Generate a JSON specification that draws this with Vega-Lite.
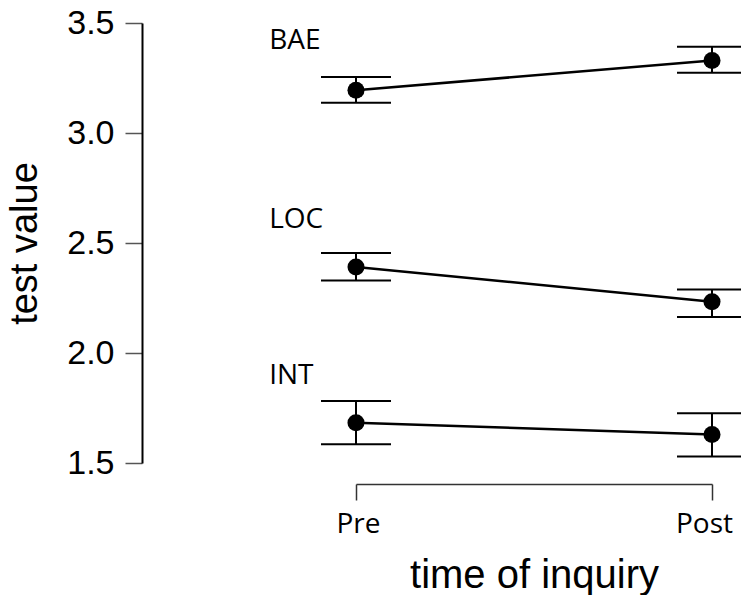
{
  "$schema": "https://vega.github.io/schema/vega-lite/v6.json",
  "width": 356,
  "height": 440,
  "padding": {"top": 6, "left": 6, "right": 0, "bottom": 0},
  "autosize": {"type": "pad"},
  "config": {"view": {"stroke": null}, "font": "Liberation Sans"},
  "datasets": {
    "stats": [
      {"measure": "BAE", "time": "Pre", "t": 1, "mean": 3.194, "lo": 3.137, "hi": 3.255},
      {"measure": "BAE", "time": "Post", "t": 2, "mean": 3.330, "lo": 3.274, "hi": 3.392},
      {"measure": "LOC", "time": "Pre", "t": 1, "mean": 2.391, "lo": 2.329, "hi": 2.455},
      {"measure": "LOC", "time": "Post", "t": 2, "mean": 2.233, "lo": 2.164, "hi": 2.289},
      {"measure": "INT", "time": "Pre", "t": 1, "mean": 1.683, "lo": 1.585, "hi": 1.782},
      {"measure": "INT", "time": "Post", "t": 2, "mean": 1.630, "lo": 1.529, "hi": 1.726}
    ],
    "labels": [
      {"measure": "BAE", "t": 0.756, "pos": 3.42},
      {"measure": "LOC", "t": 0.756, "pos": 2.605},
      {"measure": "INT", "t": 0.756, "pos": 1.895}
    ]
  },
  "layer": [
    {
      "data": {"name": "stats"},
      "mark": {"type": "rule", "strokeWidth": 2, "color": "black"},
      "encoding": {
        "x": {
          "field": "t", "type": "quantitative",
          "scale": {"domain": [1, 2], "nice": false, "zero": false},
          "axis": {
            "title": "time of inquiry", "values": [1, 2],
            "labelExpr": "datum.value == 1 ? 'Pre' : 'Post'",
            "offset": 21, "grid": false, "tickSize": 16, "tickWidth": 1.5,
            "tickColor": "#333", "domainColor": "#333", "domainWidth": 1.5,
            "labelFont": "Open Sans", "labelFontSize": 28, "labelColor": "black",
            "labelPadding": 10, "labelFlush": false,
            "labelOffset": {"condition": {"test": "datum.value == 2", "value": -8}, "value": 2},
            "titleFont": "Liberation Sans", "titleFontSize": 40, "titleFontWeight": "normal",
            "titleColor": "black", "titlePadding": 17
          }
        },
        "y": {
          "field": "lo", "type": "quantitative",
          "scale": {"domain": [1.5, 3.5], "nice": false, "zero": false},
          "axis": {
            "title": "test value", "values": [1.5, 2, 2.5, 3, 3.5], "format": ".1f",
            "offset": 214, "grid": false, "tickSize": 17, "tickWidth": 1.5,
            "tickColor": "#555", "domainColor": "black", "domainWidth": 2,
            "labelFont": "Liberation Sans", "labelFontSize": 34, "labelColor": "black",
            "labelPadding": 11,
            "titleFont": "Liberation Sans", "titleFontSize": 38, "titleFontWeight": "normal",
            "titleColor": "black", "titlePadding": 22
          }
        },
        "y2": {"field": "hi"}
      }
    },
    {
      "data": {"name": "stats"},
      "mark": {"type": "tick", "orient": "horizontal", "size": 70, "thickness": 2, "color": "black", "opacity": 1},
      "encoding": {
        "x": {"field": "t", "type": "quantitative"},
        "y": {"field": "lo", "type": "quantitative"}
      }
    },
    {
      "data": {"name": "stats"},
      "mark": {"type": "tick", "orient": "horizontal", "size": 70, "thickness": 2, "color": "black", "opacity": 1},
      "encoding": {
        "x": {"field": "t", "type": "quantitative"},
        "y": {"field": "hi", "type": "quantitative"}
      }
    },
    {
      "data": {"name": "stats"},
      "mark": {"type": "line", "color": "black", "strokeWidth": 2.5},
      "encoding": {
        "x": {"field": "t", "type": "quantitative"},
        "y": {"field": "mean", "type": "quantitative"},
        "detail": {"field": "measure"}
      }
    },
    {
      "data": {"name": "stats"},
      "mark": {"type": "circle", "size": 290, "opacity": 1, "color": "black"},
      "encoding": {
        "x": {"field": "t", "type": "quantitative"},
        "y": {"field": "mean", "type": "quantitative"}
      }
    },
    {
      "data": {"name": "labels"},
      "mark": {"type": "text", "align": "left", "baseline": "middle", "font": "Open Sans", "fontSize": 28, "color": "black"},
      "encoding": {
        "x": {"field": "t", "type": "quantitative"},
        "y": {"field": "pos", "type": "quantitative"},
        "text": {"field": "measure"}
      }
    }
  ]
}
